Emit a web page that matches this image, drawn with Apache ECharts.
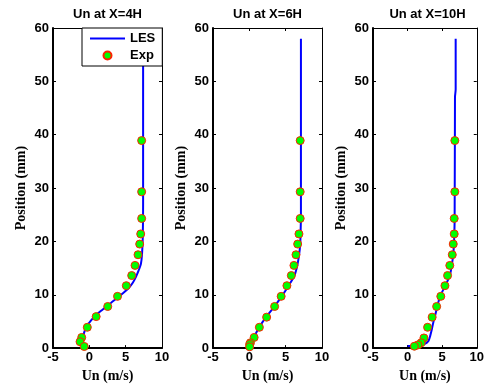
<!DOCTYPE html>
<html>
<head>
<meta charset="utf-8">
<script src="https://cdn.jsdelivr.net/npm/echarts@6/dist/echarts.min.js"></script>
<style>html,body{margin:0;padding:0;background:#fff;}#c{width:487px;height:388px;}</style>
</head>
<body>
<div id="c"></div>
<script>
// ---- data ----
const titles = ['Un at X=4H', 'Un at X=6H', 'Un at X=10H'];
const xTicks = [-5, 0, 5, 10];
const yTicks = [0, 10, 20, 30, 40, 50, 60];

// Panel 1 (X=4H)
const exp1U = [7.2, 7.2, 7.2, 7.07, 6.93, 6.7, 6.29, 5.83, 5.09, 3.88, 2.53, 0.94, -0.28, -1.05, -1.28, -0.7];
const exp1Y = [38.9, 29.3, 24.3, 21.4, 19.5, 17.5, 15.5, 13.6, 11.7, 9.7, 7.8, 5.9, 3.9, 2.0, 1.2, 0.3];
const les1U = [-0.9, -0.9, -0.7, -0.3, 0.3, 1.0, 1.8, 3.0, 4.2, 4.9, 5.5, 6.0, 6.4, 6.8, 7.1, 7.25, 7.35, 7.4, 7.4];
const les1Y = [0.3, 1.6, 3.0, 4.2, 5.3, 6.3, 7.2, 8.5, 9.8, 10.6, 11.4, 12.3, 13.3, 14.6, 15.8, 17.6, 20.7, 27, 58];

// Panel 2 (X=6H)
const exp2U = [7.0, 7.0, 7.0, 6.83, 6.65, 6.42, 6.14, 5.78, 5.17, 4.38, 3.48, 2.38, 1.38, 0.66, 0.15, 0.04, 0.04];
const exp2Y = [38.9, 29.3, 24.3, 21.4, 19.5, 17.5, 15.5, 13.6, 11.7, 9.7, 7.8, 5.8, 3.9, 2.0, 1.0, 0.7, 0.25];
const les2U = [0, 0.6, 1.35, 2.3, 3.45, 4.45, 5.4, 6.2, 6.6, 6.85, 7.0, 7.05, 7.1, 7.1];
const les2Y = [0.2, 1.9, 3.9, 5.8, 7.8, 9.7, 11.7, 13.6, 15.5, 17.5, 19.5, 21.5, 25, 58];

// Panel 3 (X=10H)
const exp3U = [6.83, 6.83, 6.74, 6.74, 6.6, 6.46, 6.1, 5.78, 5.4, 4.8, 4.2, 3.55, 2.89, 2.36, 1.97, 1.5, 0.98];
const exp3Y = [38.9, 29.3, 24.3, 21.4, 19.5, 17.5, 15.5, 13.6, 11.7, 9.7, 7.8, 5.8, 3.9, 1.9, 1.0, 0.6, 0.35];
const les3U = [0, 1.5, 2.5, 3.0, 3.25, 3.5, 3.7, 4.05, 4.4, 4.8, 5.45, 6.1, 6.42, 6.65, 6.8, 6.85, 6.95, 6.95];
const les3Y = [0.4, 0.5, 0.8, 1.3, 2.2, 3.5, 4.7, 6.5, 8.4, 10.0, 11.7, 13.6, 15.8, 18.3, 23.8, 47, 48.5, 58];

const expU = [exp1U, exp2U, exp3U];
const expY = [exp1Y, exp2Y, exp3Y];
const lesU = [les1U, les2U, les3U];
const lesY = [les1Y, les2Y, les3Y];

// ---- layout ----
const gridLefts = [53, 213, 373];
const gridW = 109, gridTop = 28, gridH = 324;
const sans = 'Liberation Sans, Arial, sans-serif';
const serif = 'Liberation Serif, Times New Roman, serif';

const zip = (a, b) => a.map((v, i) => [v, b[i]]);

const grids = [], xAxes = [], yAxes = [], series = [], titleArr = [];
for (let i = 0; i < 3; i++) {
  grids.push({left: gridLefts[i], top: gridTop, width: gridW, height: gridH, containLabel: false});
  titleArr.push({
    text: titles[i], left: gridLefts[i] + gridW / 2, top: 8, textAlign: 'center', padding: 0,
    textStyle: {fontFamily: sans, fontWeight: 'bold', fontSize: 13, color: '#000'}
  });
  xAxes.push({
    gridIndex: i, type: 'value', position: 'bottom', min: xTicks[0], max: xTicks[xTicks.length - 1], interval: 5,
    name: 'Un (m/s)', nameLocation: 'middle', nameGap: 19,
    nameTextStyle: {fontFamily: serif, fontWeight: 'bold', fontSize: 14, color: '#000'},
    axisLine: {show: true, onZero: false, lineStyle: {color: '#000', width: 2}},
    axisTick: {show: true, inside: true, length: 3, lineStyle: {color: '#000'}},
    axisLabel: {margin: 3, fontFamily: sans, fontWeight: 'bold', fontSize: 13, color: '#000'},
    splitLine: {show: false}
  });
  xAxes.push({
    gridIndex: i, type: 'value', position: 'top', min: xTicks[0], max: xTicks[xTicks.length - 1], interval: 5,
    axisLine: {show: true, onZero: false, lineStyle: {color: '#000', width: 1}},
    axisTick: {show: true, inside: true, length: 3, lineStyle: {color: '#000'}},
    axisLabel: {show: false}, splitLine: {show: false}
  });
  yAxes.push({
    gridIndex: i, type: 'value', position: 'left', min: yTicks[0], max: yTicks[yTicks.length - 1], interval: 10,
    name: 'Position (mm)', nameLocation: 'middle', nameGap: 25,
    nameTextStyle: {fontFamily: serif, fontWeight: 'bold', fontSize: 14, color: '#000'},
    axisLine: {show: true, onZero: false, lineStyle: {color: '#000', width: 2}},
    axisTick: {show: true, inside: true, length: 3, lineStyle: {color: '#000'}},
    axisLabel: {margin: 4, fontFamily: sans, fontWeight: 'bold', fontSize: 13, color: '#000'},
    splitLine: {show: false}
  });
  yAxes.push({
    gridIndex: i, type: 'value', position: 'right', min: yTicks[0], max: yTicks[yTicks.length - 1], interval: 10,
    axisLine: {show: true, onZero: false, lineStyle: {color: '#000', width: 1}},
    axisTick: {show: true, inside: true, length: 3, lineStyle: {color: '#000'}},
    axisLabel: {show: false}, splitLine: {show: false}
  });
  series.push({
    name: 'LES', type: 'line', xAxisIndex: 2 * i, yAxisIndex: 2 * i,
    data: zip(lesU[i], lesY[i]), symbol: 'none', smooth: 0.3,
    lineStyle: {color: '#0000ff', width: 2}, itemStyle: {color: '#0000ff'}, z: 2, silent: true
  });
  series.push({
    name: 'Exp', type: 'scatter', xAxisIndex: 2 * i, yAxisIndex: 2 * i,
    data: zip(expU[i], expY[i]), symbol: 'circle', symbolSize: 8,
    itemStyle: {color: '#00ff00', borderColor: '#ff2000', borderWidth: 1, opacity: 1}, z: 3, silent: true
  });
}

const chart = echarts.init(document.getElementById('c'), null, {renderer: 'canvas'});
chart.setOption({
  animation: false,
  backgroundColor: '#fff',
  title: titleArr,
  grid: grids,
  xAxis: xAxes,
  yAxis: yAxes,
  legend: [{
    show: true,
    left: '82px', top: '28px', right: 'auto', bottom: 'auto',
    orient: 'vertical', align: 'left',
    data: [{name: 'LES', itemStyle: {opacity: 0, borderWidth: 0}}, {name: 'Exp'}],
    itemWidth: 35, itemHeight: 8, itemGap: 4,
    padding: [4, 7, 4, 7],
    backgroundColor: '#fff', borderColor: '#000', borderWidth: 1, borderRadius: 0,
    textStyle: {fontFamily: sans, fontWeight: 'bold', fontSize: 13, color: '#000'},
    selectedMode: false, z: 10
  }],
  series: series
});
</script>
</body>
</html>
